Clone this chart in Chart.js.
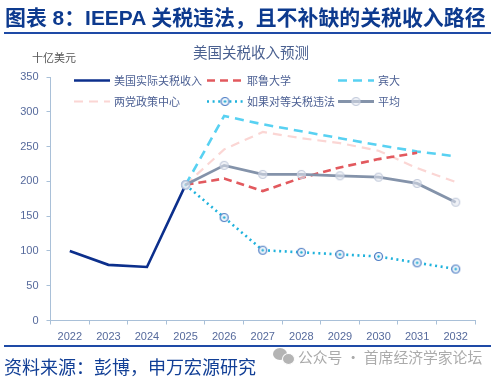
<!DOCTYPE html>
<html><head><meta charset="utf-8">
<script src="https://cdn.jsdelivr.net/npm/chart.js@4/dist/chart.umd.min.js"></script>
<style>
html,body{margin:0;padding:0;background:#fff;width:496px;height:377px;overflow:hidden}
#wrap{position:relative;width:496px;height:377px;filter:blur(.45px)}
canvas{position:absolute;left:0;top:0}
.t{position:absolute;white-space:nowrap;font-family:"Noto Sans CJK SC","Noto Sans",sans-serif}
#title{left:5px;top:4px;font-family:"Liberation Sans","Noto Sans CJK SC",sans-serif;font-size:20.9px;font-weight:700;color:#0d3a8e;line-height:28px}
.rule{position:absolute;left:4px;width:487px;height:2px;background:#1e4aa6}
#source{left:4px;top:354px;font-size:18px;line-height:24px;color:#123f96}
#mark{left:298px;top:346px;font-size:14.8px;line-height:22px;color:#ababab}
.b{position:absolute;border-radius:50%;background:#b4b4b4}
</style></head><body>
<div id="wrap">
<canvas id="c" width="496" height="377"></canvas>
<div class="t" id="title">图表 8：IEEPA 关税违法，且不补缺的关税收入路径</div>
<div class="rule" style="top:32px"></div>
<div class="rule" style="top:345px"></div>
<div class="t" id="source">资料来源：彭博，申万宏源研究</div>
<div class="b" style="left:273px;top:348px;width:14px;height:12px"></div>
<div class="b" style="left:282px;top:353px;width:11px;height:10px;border:1px solid #fff;box-sizing:content-box"></div>
<div class="t" id="mark">公众号 · 首席经济学家论坛</div>
</div>
<script>
const years=['2022','2023','2024','2025','2026','2027','2028','2029','2030','2031','2032'];
const actual=[100,80,77,195,null,null,null,null,null,null,null];
const yale=[null,null,null,195,204,186,205,220,232,241,null];
const penn=[null,null,null,195,294,282,272,262,252,243,236];
const bipartisan=[null,null,null,195,246,271,262,255,244,219,199];
const ifIllegal=[null,null,null,195,148,101,98,95,92,83,74];
const average=[null,null,null,195,223,210,210,208,206,197,170];
const yTicks=[0,50,100,150,200,250,300,350];

function marker(r,stroke,fill,dot){
  const s=document.createElement('canvas');s.width=s.height=2*r+3;
  const g=s.getContext('2d');const m=r+1.5;
  g.beginPath();g.arc(m,m,r,0,Math.PI*2);g.fillStyle=fill;g.fill();
  g.lineWidth=1.2;g.strokeStyle=stroke;g.stroke();
  if(dot){g.beginPath();g.arc(m,m,1.2,0,Math.PI*2);g.fillStyle=dot;g.fill();}
  return s;
}
const mIf=marker(4,'#4d7cc4','#eef6fb','#1fa9d4');
const mAvg=marker(4,'#c3cbdc','rgba(225,229,238,.55)',null);

const legendRows=[[74,80.5],[207,80.5],[338,80.5],[74,101.5],[207,101.5],[338,101.5]];
const customLegend={id:'customLegend',afterDatasetsDraw(ch){
  const g=ch.ctx;g.save();
  ch.data.datasets.forEach((d,i)=>{
    const [x,y]=legendRows[i];
    g.beginPath();g.setLineDash(d.borderDash||[]);g.lineWidth=d.borderWidth;g.strokeStyle=d.borderColor;
    g.moveTo(x,y);g.lineTo(x+36,y);g.stroke();g.setLineDash([]);
    if(d.pointStyle instanceof HTMLCanvasElement){const p=d.pointStyle;g.drawImage(p,x+18-p.width/2,y-p.height/2);}
    g.fillStyle='#4b5f93';g.font='11px "Noto Sans CJK SC"';g.textBaseline='middle';g.textAlign='left';
    g.fillText(d.label,x+40,y+.5);
  });
  g.fillStyle='#4a6090';g.font='14.5px "Noto Sans CJK SC"';g.textAlign='center';
  g.fillText('美国关税收入预测',251,52);
  g.fillStyle='#555';g.font='11px "Noto Sans CJK SC"';
  g.fillText('十亿美元',54,58);
  g.restore();
}};
const ds=(label,data,color,width,dash,point,order)=>({label,data,borderColor:color,backgroundColor:color,borderWidth:width,borderDash:dash,
  pointStyle:point||false,pointRadius:point?4:0,pointHoverRadius:0,tension:0,spanGaps:false,order,borderCapStyle:'butt',borderJoinStyle:'miter',clip:false});
new Chart(document.getElementById('c'),{
  type:'line',
  data:{labels:years,datasets:[
    ds('美国实际关税收入',actual,'#0c2f8c',2.6,[],null,5),
    ds('耶鲁大学',yale,'#e2595e',2.6,[8,5],null,3),
    ds('宾大',penn,'#58d1f2',2.6,[9,6],null,4),
    ds('两党政策中心',bipartisan,'#fbd6d4',2.2,[9,6],null,6),
    ds('如果对等关税违法',ifIllegal,'#1fb2dc',2.6,[2,3.6],mIf,2),
    ds('平均',average,'#8493aa',2.8,[],mAvg,1)
  ]},
  plugins:[customLegend],
  options:{responsive:false,animation:false,
    layout:{padding:{top:77,right:21,left:0,bottom:0}},
    plugins:{legend:{display:false},title:{display:false},tooltip:{enabled:false}},
    scales:{
      x:{offset:true,afterFit(s){s.height=56.5;},
        grid:{offset:true,drawOnChartArea:false,drawTicks:true,tickLength:4,color:'#a9c0d8'},
        border:{color:'#a9c0d8',width:1},
        ticks:{color:'#566a9c',font:{family:'"Liberation Sans"',size:11},padding:6,maxRotation:0,autoSkip:false}},
      y:{min:0,max:350,afterFit(s){s.width=50.5;},
        afterBuildTicks(s){s.ticks=yTicks.map(v=>({value:v}));},
        grid:{drawOnChartArea:false,drawTicks:true,tickLength:4,color:'#a9c0d8'},
        border:{color:'#a9c0d8',width:1},
        ticks:{color:'#566a9c',font:{family:'"Liberation Sans"',size:11},padding:8}}
    }}
});
</script>
</body></html>
